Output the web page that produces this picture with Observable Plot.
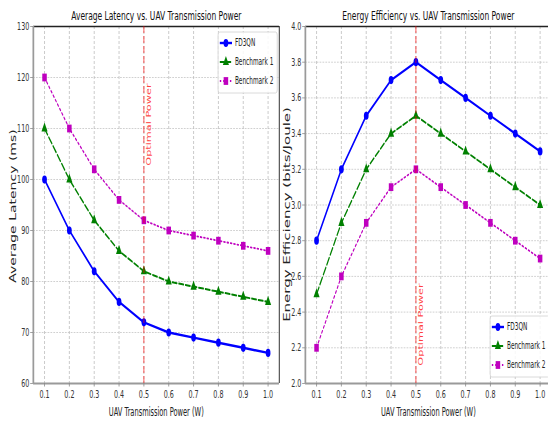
<!DOCTYPE html>
<html>
<head>
<meta charset="utf-8">
<script src="https://cdn.jsdelivr.net/npm/d3@7"></script>
<script src="https://cdn.jsdelivr.net/npm/@observablehq/plot@0.6"></script>
<style>
  html, body { margin: 0; padding: 0; background: #fff; overflow: hidden; }
  #wrap { position: relative; height: 421px; transform-origin: 0 0; }
  #wrap svg { position: absolute; top: 0; background: transparent; }
</style>
</head>
<body>
<div id="wrap"></div>
<script>
// ---- data ----
const power = [0.1, 0.2, 0.3, 0.4, 0.5, 0.6, 0.7, 0.8, 0.9, 1.0];
const seriesNames = ["FD3QN", "Benchmark 1", "Benchmark 2"];

const latencyFD3QN      = [100, 90, 82, 76, 72, 70, 69, 68, 67, 66];
const latencyBenchmark1 = [110, 100, 92, 86, 82, 80, 79, 78, 77, 76];
const latencyBenchmark2 = [120, 110, 102, 96, 92, 90, 89, 88, 87, 86];

const efficiencyFD3QN      = [2.8, 3.2, 3.5, 3.7, 3.8, 3.7, 3.6, 3.5, 3.4, 3.3];
const efficiencyBenchmark1 = [2.5, 2.9, 3.2, 3.4, 3.5, 3.4, 3.3, 3.2, 3.1, 3.0];
const efficiencyBenchmark2 = [2.2, 2.6, 2.9, 3.1, 3.2, 3.1, 3.0, 2.9, 2.8, 2.7];

const optimalPower = 0.5;
const latencyTicks = [60, 70, 80, 90, 100, 110, 120, 130];
const efficiencyTicks = [2.0, 2.2, 2.4, 2.6, 2.8, 3.0, 3.2, 3.4, 3.6, 3.8, 4.0];

// ---- styling ----
const squeeze = 0.58;             // horizontal compression of the whole figure
const totalWidth = 548 / squeeze;
const font = "DejaVu Sans, Liberation Sans, sans-serif";
const style = {
  "FD3QN":       {color: "#0000ff", dash: null,      symbol: "circle",   r: 4.1, width: 2.4},
  "Benchmark 1": {color: "#008000", dash: "8,3.5",   symbol: "triangle", r: 3.9, width: 2},
  "Benchmark 2": {color: "#bf00bf", dash: "2.4,3.4", symbol: "square",   r: 4.4, width: 1.8}
};
const d3Symbols = {circle: d3.symbolCircle, triangle: d3.symbolTriangle, square: d3.symbolSquare};

function tidy(values) {
  return seriesNames.flatMap((name, i) => values[i].map((v, j) => ({power: power[j], value: v, series: name})));
}

// legend box drawn in frame pixel space
function legend(corner) {
  return (index, scales, values, dim) => {
    const boxW = 102, boxH = 61, row = 19;
    const x0 = dim.width - dim.marginRight - 3 - boxW;
    const y0 = corner === "top" ? dim.marginTop + 6 : dim.height - dim.marginBottom - 6 - boxH;
    const g = d3.create("svg:g").attr("font-family", font).attr("font-size", 10).attr("text-anchor", "start");
    g.append("rect").attr("x", x0).attr("y", y0).attr("width", boxW).attr("height", boxH)
      .attr("rx", 3).attr("fill", "#fff").attr("fill-opacity", 0.85).attr("stroke", "#d0d0d0");
    seriesNames.forEach((name, i) => {
      const s = style[name];
      const y = y0 + 11 + i * row;
      g.append("line").attr("x1", x0 + 3).attr("x2", x0 + 24).attr("y1", y).attr("y2", y)
        .attr("stroke", s.color).attr("stroke-width", s.width).attr("stroke-dasharray", s.dash);
      g.append("path").attr("transform", `translate(${x0 + 13.5},${y})`)
        .attr("d", d3.symbol(d3Symbols[s.symbol], Math.PI * s.r * s.r)()).attr("fill", s.color);
      g.append("text").attr("x", x0 + 29).attr("y", y).attr("dy", "0.35em")
        .attr("text-anchor", "start").attr("fill", "#222").text(name);
    });
    return g.node();
  };
}

function panel({left, width, marginLeft, marginRight, values, yDomain, yTicks, yFormat,
                title, yLabel, yLabelSize, yLabelDx, yLabelDy, optimalY, legendCorner}) {
  const data = tidy(values);
  const xDomain = [0.055, 1.045];
  const marks = [
    Plot.gridX(power, {stroke: "#bdbdbd", strokeOpacity: 1, strokeWidth: 1, strokeDasharray: "3,2"}),
    Plot.gridY(yTicks, {stroke: "#bdbdbd", strokeOpacity: 1, strokeWidth: 0.9, strokeDasharray: "3,2"}),
    Plot.ruleY([yDomain[1]], {stroke: "#222", strokeWidth: 1.3}),
    Plot.ruleX([xDomain[1]], {stroke: "#222", strokeWidth: 1.6}),
    Plot.ruleX([xDomain[0]], {stroke: "#9a9a9a", strokeWidth: 3}),
    Plot.ruleY([yDomain[0]], {stroke: "#9a9a9a", strokeWidth: 2})
  ];
  for (const name of seriesNames) {
    const s = style[name];
    const rows = data.filter(d => d.series === name);
    marks.push(
      Plot.line(rows, {x: "power", y: "value", stroke: s.color, strokeWidth: s.width, strokeDasharray: s.dash}),
      Plot.dot(rows, {x: "power", y: "value", symbol: s.symbol, r: s.r, fill: s.color, stroke: "none"})
    );
  }
  marks.push(
    Plot.ruleX([optimalPower], {stroke: "#ff0000", strokeOpacity: 0.7, strokeWidth: 1.6, strokeDasharray: "7,3"}),
    Plot.text(["Optimal Power"], {x: () => optimalPower, y: () => optimalY, rotate: -90, textAnchor: "start",
      lineAnchor: "top", dx: 5, fill: "#ff0000", fillOpacity: 0.75, fontSize: 11.3}),
    Plot.axisX({ticks: power, tickFormat: d3.format(".1f"), tickSize: 3.5, tickPadding: 3, label: null,
      stroke: "#888", fill: "#333"}),
    Plot.axisY({ticks: yTicks, tickFormat: yFormat, tickSize: 5, tickPadding: 2, label: null,
      stroke: "#888", fill: "#333"}),
    Plot.text([title], {frameAnchor: "top", dy: -11, lineAnchor: "middle", fontSize: 13, fill: "#111"}),
    Plot.text(["UAV Transmission Power (W)"], {frameAnchor: "bottom", dy: 29, lineAnchor: "middle", fontSize: 11.5, fill: "#222"}),
    Plot.text([yLabel], {frameAnchor: "left", rotate: -90, dx: yLabelDx, dy: yLabelDy, textAnchor: "middle",
      lineAnchor: "middle", fontSize: yLabelSize, fill: "#222"}),
    legend(legendCorner)
  );
  const svg = Plot.plot({
    width, height: 421, marginLeft, marginRight, marginTop: 26, marginBottom: 38,
    x: {domain: xDomain},
    y: {domain: yDomain},
    style: {fontFamily: font, fontSize: "11px", background: "transparent", overflow: "visible"},
    marks
  });
  svg.style.left = left + "px";
  return svg;
}

const wrap = document.getElementById("wrap");
wrap.style.width = totalWidth + "px";
wrap.style.transform = `scaleX(${squeeze})`;

wrap.append(panel({
  left: 0, width: 490, marginLeft: 57, marginRight: 9,
  values: [latencyFD3QN, latencyBenchmark1, latencyBenchmark2],
  yDomain: [60, 130], yTicks: latencyTicks, yFormat: d3.format("d"),
  title: "Average Latency vs. UAV Transmission Power",
  yLabel: "Average Latency (ms)", yLabelSize: 14, yLabelDx: -34.6, yLabelDy: 1,
  optimalY: 102.7, legendCorner: "top"
}));

wrap.append(panel({
  left: 465, width: 490, marginLeft: 61, marginRight: 5,
  values: [efficiencyFD3QN, efficiencyBenchmark1, efficiencyBenchmark2],
  yDomain: [2.0, 4.0], yTicks: efficiencyTicks, yFormat: d3.format(".1f"),
  title: "Energy Efficiency vs. UAV Transmission Power",
  yLabel: "Energy Efficiency (bits/Joule)", yLabelSize: 15, yLabelDx: -31.2, yLabelDy: 9.5,
  optimalY: 2.1, legendCorner: "bottom"
}));
</script>
</body>
</html>
